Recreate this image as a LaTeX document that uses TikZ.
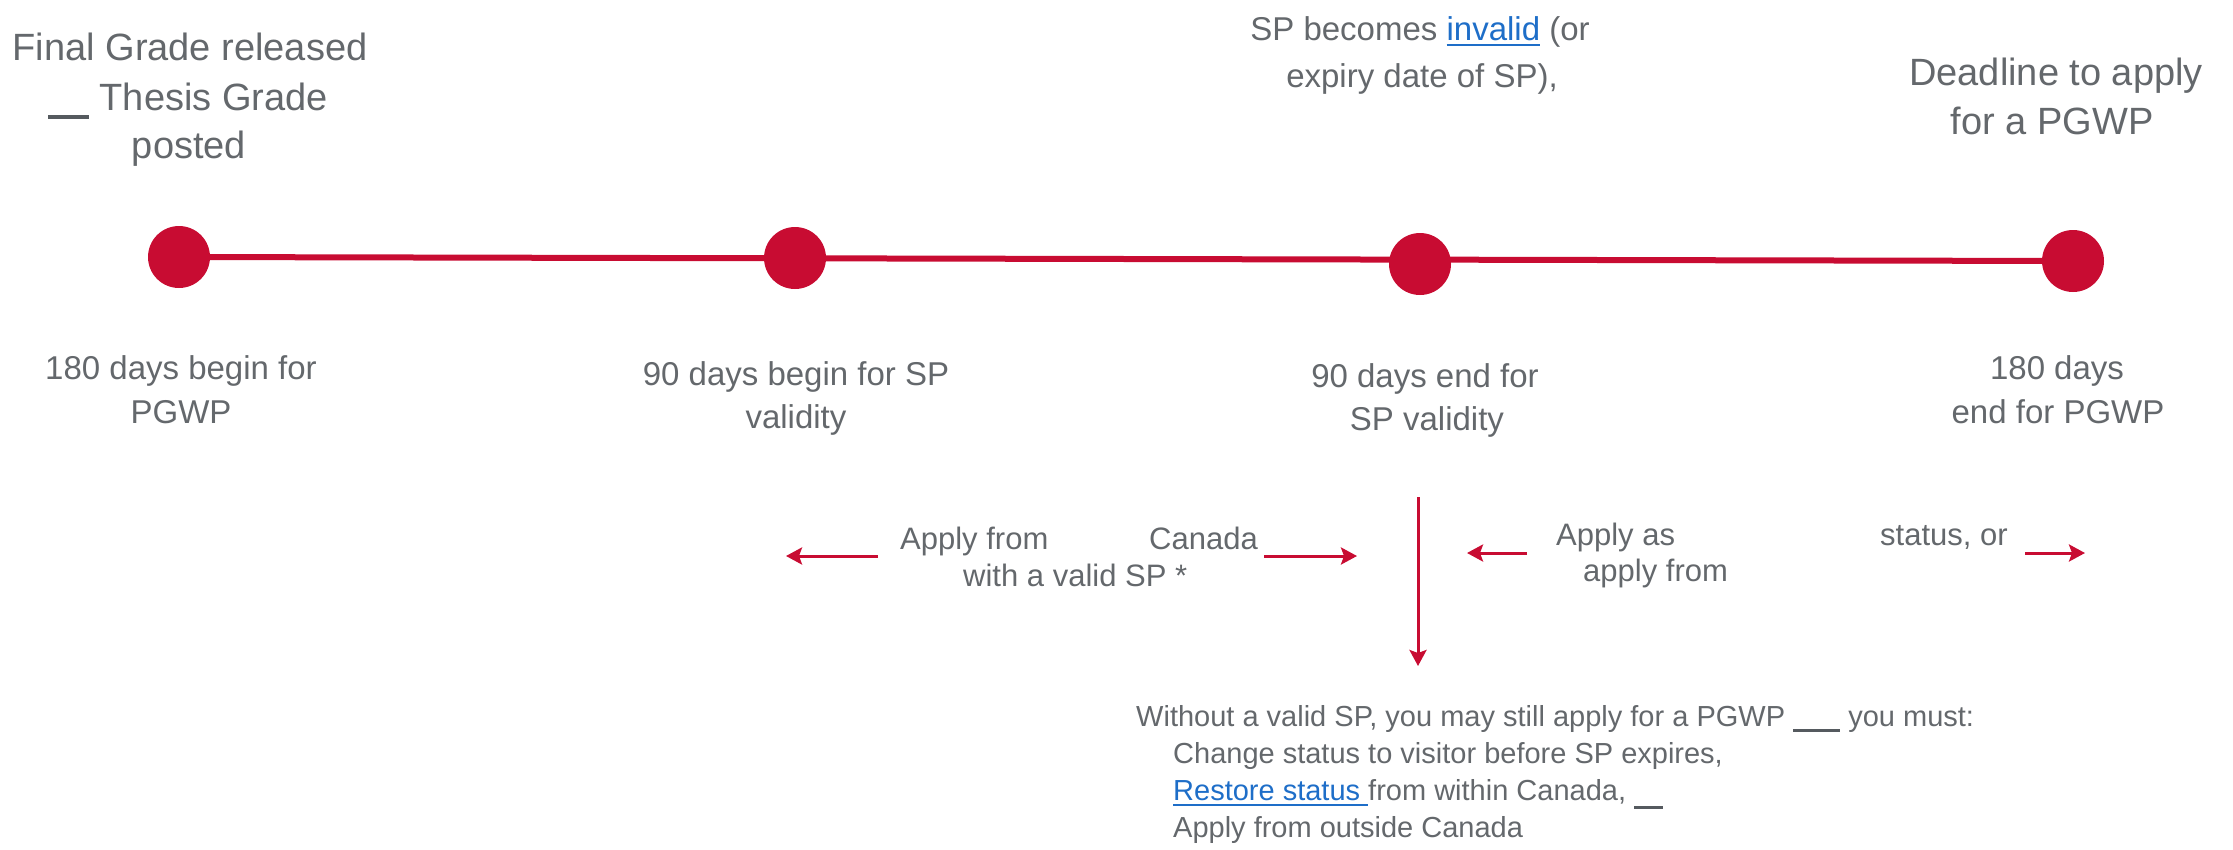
\documentclass[tikz,border=0pt]{standalone}
\usepackage{fontspec}
\setmainfont{Liberation Sans}
\usetikzlibrary{arrows.meta}
\definecolor{tlred}{RGB}{200,12,50}
\definecolor{txt}{RGB}{100,104,108}
\definecolor{barc}{RGB}{85,90,95}
\definecolor{linkc}{RGB}{30,110,200}
\newcommand\linkul[1]{\setbox0=\hbox{#1}\rlap{\rule[-6pt]{\wd0}{2pt}}\box0}
\newcommand\gbar[3]{\textcolor{barc}{\rule[#1]{#2}{#3}}}
\tikzset{
  lbl/.style={inner sep=0pt, text=txt, anchor=base},
  big/.style={lbl, font=\fontsize{38}{46}\selectfont},
  mid/.style={lbl, font=\fontsize{33}{40}\selectfont},
  arrlbl/.style={lbl, anchor=base west, font=\fontsize{31}{37}\selectfont},
  note/.style={lbl, anchor=base west, font=\fontsize{29}{35}\selectfont},
  dot/.style={circle, fill=tlred, inner sep=0pt, minimum size=62pt},
  tline/.style={draw=tlred, line width=6pt},
  pointer/.style={draw=tlred, line width=3pt, -{Stealth[length=16pt,width=17pt,inset=3pt]}},
}
\begin{document}
\begin{tikzpicture}[x=1pt,y=-1pt]
\useasboundingbox (0,0) rectangle (2233,849);

% timeline
\node[dot] (c1) at (179,257) {};
\node[dot] (c2) at (795,258) {};
\node[dot] (c3) at (1420,264) {};
\node[dot] (c4) at (2073,261) {};
\draw[tline] (c1.center) -- (c4.center);

% top labels
\node[big] (t1a) at (190,60) {Final Grade released};
\node[big] (t1b) at (188,110) {\gbar{-9pt}{41pt}{4pt} Thesis Grade};
\node[big] (t1c) at (189,158) {posted};

\node[mid] (t3a) at (1420,40) {SP becomes \textcolor{linkc}{\linkul{invalid}} (or};
\node[mid] (t3b) at (1422,87) {expiry date of SP),};

\node[big] (t4a) at (2056,85) {Deadline to apply};
\node[big] (t4b) at (2052,134) {for a PGWP};

% bottom labels
\node[mid] (b1a) at (181,379) {180 days begin for};
\node[mid] (b1b) at (181,423) {PGWP};
\node[mid] (b2a) at (796,385) {90 days begin for SP};
\node[mid] (b2b) at (796,428) {validity};
\node[mid] (b3a) at (1425,387) {90 days end for};
\node[mid] (b3b) at (1427,430) {SP validity};
\node[mid] (b4a) at (2057,379) {180 days};
\node[mid] (b4b) at (2058,423) {end for PGWP};

% arrow row
\node[arrlbl] (r1) at (900,549) {Apply from};
\node[arrlbl] (r2) at (1149,549) {Canada};
\node[arrlbl] (r3) at (963,586) {with a valid SP *};
\node[arrlbl] (r4) at (1556,545) {Apply as};
\node[arrlbl] (r5) at (1583,581) {apply from};
\node[arrlbl] (r6) at (1880,545) {status, or};

\coordinate (a1s) at (878,556);  \coordinate (a1e) at (786,556);
\coordinate (a2s) at (1264,556); \coordinate (a2e) at (1357,556);
\coordinate (a3s) at (1527,553); \coordinate (a3e) at (1467,553);
\coordinate (a4s) at (2025,553); \coordinate (a4e) at (2085,553);
\coordinate (v0) at (1418,497);  \coordinate (v1) at (1418,666);
\draw[pointer] (a1s) -- (a1e);
\draw[pointer] (a2s) -- (a2e);
\draw[pointer] (a3s) -- (a3e);
\draw[pointer] (a4s) -- (a4e);
\draw[pointer] (v0) -- (v1);

% bottom note
\node[note] (n1) at (1136,726) {Without a valid SP, you may still apply for a PGWP \gbar{-6pt}{47pt}{3.5pt} you must:};
\node[note] (n2) at (1173,763) {Change status to visitor before SP expires,};
\node[note] (n3) at (1173,800) {\textcolor{linkc}{\linkul{Restore status\ }}from within Canada, \gbar{-9pt}{29pt}{3pt}};
\node[note] (n4) at (1173,837) {Apply from outside Canada};
\end{tikzpicture}
\end{document}
